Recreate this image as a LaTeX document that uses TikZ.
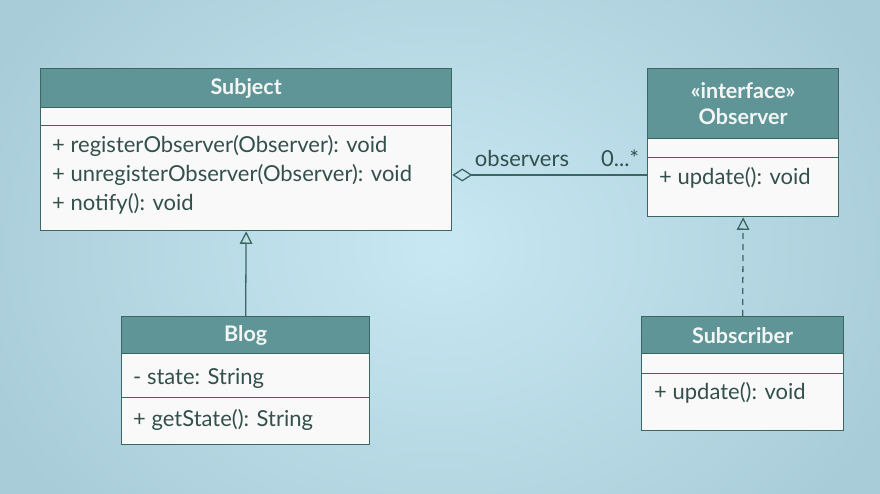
\documentclass[tikz,border=0pt]{standalone}
\usepackage{fontspec}
\setmainfont{Lato}
\usetikzlibrary{arrows.meta}
\definecolor{bgin}{HTML}{C8E8F3}
\definecolor{bgout}{HTML}{A8CCD8}
\definecolor{hdrc}{HTML}{5F9596}
\definecolor{bordc}{HTML}{3B6763}
\definecolor{compc}{HTML}{F8F9F8}
\definecolor{txtc}{HTML}{33504D}
\definecolor{hdrtxt}{HTML}{F2F6F4}
\tikzset{
  hdr/.style={draw=bordc, fill=hdrc, line width=1.3pt, anchor=north west, inner sep=0pt,
    text=hdrtxt, align=center, font=\bfseries\fontsize{21.5}{26}\selectfont},
  comp/.style={draw=bordc, fill=compc, line width=1.3pt, anchor=north west, inner sep=0pt},
  txt/.style={anchor=west, inner sep=0pt, text=txtc, font=\fontsize{22}{29}\selectfont},
  lbl/.style={inner sep=0pt, text=txtc, font=\fontsize{22}{24}\selectfont},
  conn/.style={draw=bordc, line width=1.3pt},
  gen/.style={conn, -{Triangle[open, length=12.5pt, width=12.5pt]}},
  real/.style={gen, dash pattern=on 6pt off 5pt},
  agg/.style={conn, {Diamond[open, length=20pt, width=13pt]}-}
}
\begin{document}
\begin{tikzpicture}[x=1pt, y=-1pt]
\useasboundingbox (0,0) rectangle (880,494);
\shade[inner color=bgin, outer color=bgout] (-60,-150) rectangle (940,644);
% Subject
\node[hdr, minimum width=411pt, minimum height=39pt] (subjH) at (40,68) {Subject};
\node[comp, minimum width=411pt, minimum height=18pt] (subjA) at (40,107) {};
\node[comp, minimum width=411pt, minimum height=105pt] (subjM) at (40,125) {};
\node[txt] (s1) at (52,146) {+ registerObserver(Observer): void};
\node[txt] (s2) at (52,175) {+ unregisterObserver(Observer): void};
\node[txt] (s3) at (52,204) {+ notify(): void};
% Observer
\node[hdr, minimum width=191pt, minimum height=70pt] (obsH) at (647,68) {«interface»\\Observer};
\node[comp, minimum width=191pt, minimum height=19pt] (obsA) at (647,138) {};
\node[comp, minimum width=191pt, minimum height=59pt] (obsM) at (647,157) {};
\node[txt] (o1) at (659,178) {+ update(): void};
% Blog
\node[hdr, minimum width=248pt, minimum height=37pt] (blogH) at (121,316) {Blog};
\node[comp, minimum width=248pt, minimum height=44pt] (blogA) at (121,353) {};
\node[comp, minimum width=248pt, minimum height=47pt] (blogM) at (121,397) {};
\node[txt] (b1) at (133,378) {- state: String};
\node[txt] (b2) at (133,420) {+ getState(): String};
% Subscriber
\node[hdr, minimum width=202pt, minimum height=37pt] (subH) at (641,316) {Subscriber};
\node[comp, minimum width=202pt, minimum height=20pt] (subA) at (641,353) {};
\node[comp, minimum width=202pt, minimum height=57pt] (subM) at (641,373) {};
\node[txt] (u1) at (654,393) {+ update(): void};
% connectors
\draw[gen] (blogH.north) -- (subjM.south);
\draw[real] (subH.north) -- (obsM.south);
\draw[agg] (subjM.east |- s2) -- (obsM.west |- s2);
\node[lbl] (obsLbl) at (522,158) {observers};
\node[lbl] (multLbl) at (620,158) {0...*};
\end{tikzpicture}
\end{document}
